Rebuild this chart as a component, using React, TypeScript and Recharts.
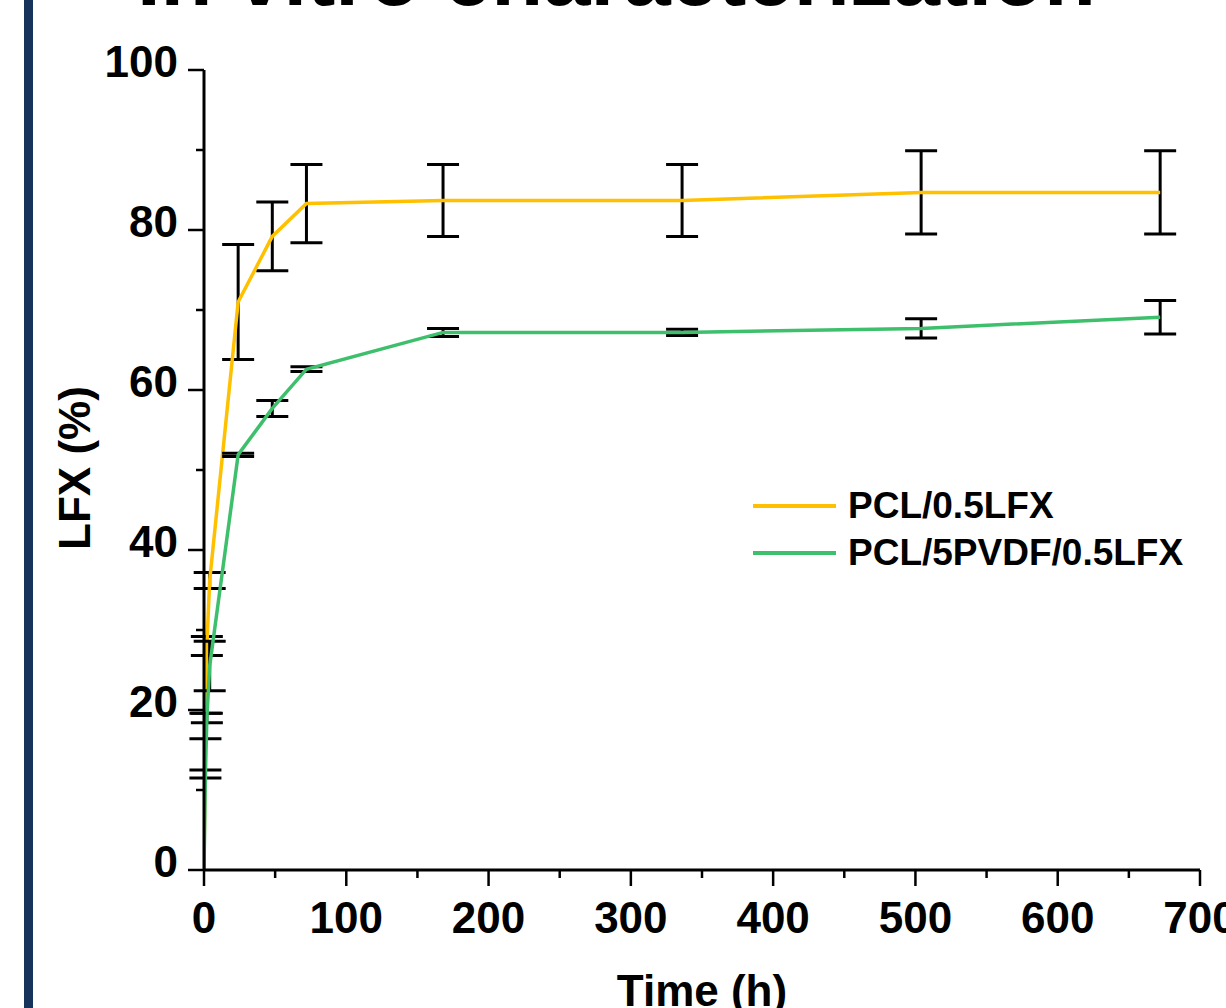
import { ComposedChart, Line, XAxis, YAxis, ErrorBar, Legend, Label } from 'recharts'

// release time points (h) and LFX release (%)
const times = [0, 1, 2, 4, 24, 48, 72, 168, 336, 504, 672]
const pclValues = [0, 18, 28, 36.2, 71, 79.2, 83.3, 83.7, 83.7, 84.7, 84.7]
const pclErrors = [0, 1.6, 1.2, 1, 7.2, 4.3, 4.9, 4.5, 4.5, 5.2, 5.2]
const pvdfValues = [0, 12, 19, 25.5, 51.9, 57.7, 62.6, 67.2, 67.2, 67.7, 69.1]
const pvdfErrors = [0, 0.5, 0.6, 3.1, 0.2, 1, 0.3, 0.5, 0.4, 1.2, 2.1]

const xTicks = [0, 50, 100, 150, 200, 250, 300, 350, 400, 450, 500, 550, 600, 650, 700]
const yTicks = [0, 10, 20, 30, 40, 50, 60, 70, 80, 90, 100]

const data = times.map((t, i) => ({
  t,
  pcl: pclValues[i],
  pclErr: pclErrors[i],
  pvdf: pvdfValues[i],
  pvdfErr: pvdfErrors[i],
}))

const FONT = '"Liberation Sans", Arial, sans-serif'
const YELLOW = '#FFC000'
const GREEN = '#3EBF6C'

const XTick = ({ x, y, payload }: any) => {
  const major = payload.value % 100 === 0
  return (
    <g>
      <line x1={x} x2={x} y1={y} y2={y + (major ? 16 : 8)} stroke="#000" strokeWidth={2.5} />
      {major && (
        <text x={x} y={y + 63} textAnchor="middle" fontFamily={FONT} fontWeight="bold" fontSize={44} fill="#000">
          {payload.value}
        </text>
      )}
    </g>
  )
}

const YTick = ({ x, y, payload }: any) => {
  const major = payload.value % 20 === 0
  return (
    <g>
      <line x1={x - (major ? 16 : 8)} x2={x} y1={y} y2={y} stroke="#000" strokeWidth={2.5} />
      {major && (
        <text x={x - 26} y={y + 7} textAnchor="end" fontFamily={FONT} fontWeight="bold" fontSize={44} fill="#000">
          {payload.value}
        </text>
      )}
    </g>
  )
}

const LegendContent = ({ payload }: any) => (
  <div style={{ fontFamily: FONT, fontWeight: 'bold', fontSize: 37, whiteSpace: 'nowrap' }}>
    {(payload || []).map((p: any) => (
      <div key={p.value} style={{ display: 'flex', alignItems: 'center', height: 47 }}>
        <div style={{ width: 83, height: 4, background: p.color, marginRight: 12 }} />
        <span style={{ lineHeight: '47px', color: '#000' }}>{p.value}</span>
      </div>
    ))}
  </div>
)

export default function App() {
  return (
    <div style={{ position: 'absolute', left: 0, top: 0, width: 1226, height: 1008, overflow: 'hidden', background: '#fff' }}>
      <div style={{ position: 'absolute', left: 24, top: 0, width: 9, height: 1008, background: '#17335C' }} />
      <svg width={1226} height={40} style={{ position: 'absolute', left: 0, top: 0 }}>
        <text x={137} y={5} fontFamily={FONT} fontWeight="bold" fontSize={85} fill="#000">
          In vitro characterization
        </text>
      </svg>
      <div style={{ position: 'absolute', left: 0, top: 0 }}>
        <ComposedChart
          width={1226}
          height={1008}
          data={data}
          margin={{ top: 70, right: 26, bottom: 0, left: 104 }}
        >
          <XAxis
            dataKey="t"
            type="number"
            domain={[0, 700]}
            ticks={xTicks}
            interval={0}
            height={138}
            tickSize={0}
            tickMargin={0}
            tickLine={false}
            tick={<XTick />}
            axisLine={{ stroke: '#000', strokeWidth: 3 }}
            allowDataOverflow
          >
            <Label
              content={() => (
                <text x={702} y={1006} textAnchor="middle" fontFamily={FONT} fontWeight="bold" fontSize={44} fill="#000">
                  Time (h)
                </text>
              )}
            />
          </XAxis>
          <XAxis
            xAxisId="top"
            orientation="top"
            dataKey="t"
            type="number"
            domain={[0, 700]}
            height={0}
            tick={false}
            tickLine={false}
            axisLine={{ stroke: '#000', strokeWidth: 3 }}
          />
          <YAxis
            type="number"
            domain={[0, 100]}
            ticks={yTicks}
            interval={0}
            width={100}
            tickSize={0}
            tickMargin={0}
            tickLine={false}
            tick={<YTick />}
            axisLine={{ stroke: '#000', strokeWidth: 3 }}
          >
            <Label
              content={() => (
                <text
                  x={90}
                  y={468}
                  transform="rotate(-90 90 468)"
                  textAnchor="middle"
                  fontFamily={FONT}
                  fontWeight="bold"
                  fontSize={44}
                  fill="#000"
                >
                  LFX (%)
                </text>
              )}
            />
          </YAxis>
          <YAxis
            yAxisId="right"
            orientation="right"
            domain={[0, 100]}
            width={0}
            tick={false}
            tickLine={false}
            axisLine={{ stroke: '#000', strokeWidth: 3 }}
          />
          <Legend
            layout="vertical"
            align="center"
            verticalAlign="middle"
            content={<LegendContent />}
            wrapperStyle={{ position: 'absolute', left: 753, top: 482, width: 'auto' }}
          />
          <Line
            type="linear"
            dataKey="pcl"
            name="PCL/0.5LFX"
            stroke={YELLOW}
            strokeWidth={3.5}
            dot={false}
            activeDot={false}
            isAnimationActive={false}
          >
            <ErrorBar dataKey="pclErr" direction="y" width={16} stroke="#000" strokeWidth={3} />
          </Line>
          <Line
            type="linear"
            dataKey="pvdf"
            name="PCL/5PVDF/0.5LFX"
            stroke={GREEN}
            strokeWidth={3.5}
            dot={false}
            activeDot={false}
            isAnimationActive={false}
          >
            <ErrorBar dataKey="pvdfErr" direction="y" width={16} stroke="#000" strokeWidth={3} />
          </Line>
        </ComposedChart>
      </div>
    </div>
  )
}
